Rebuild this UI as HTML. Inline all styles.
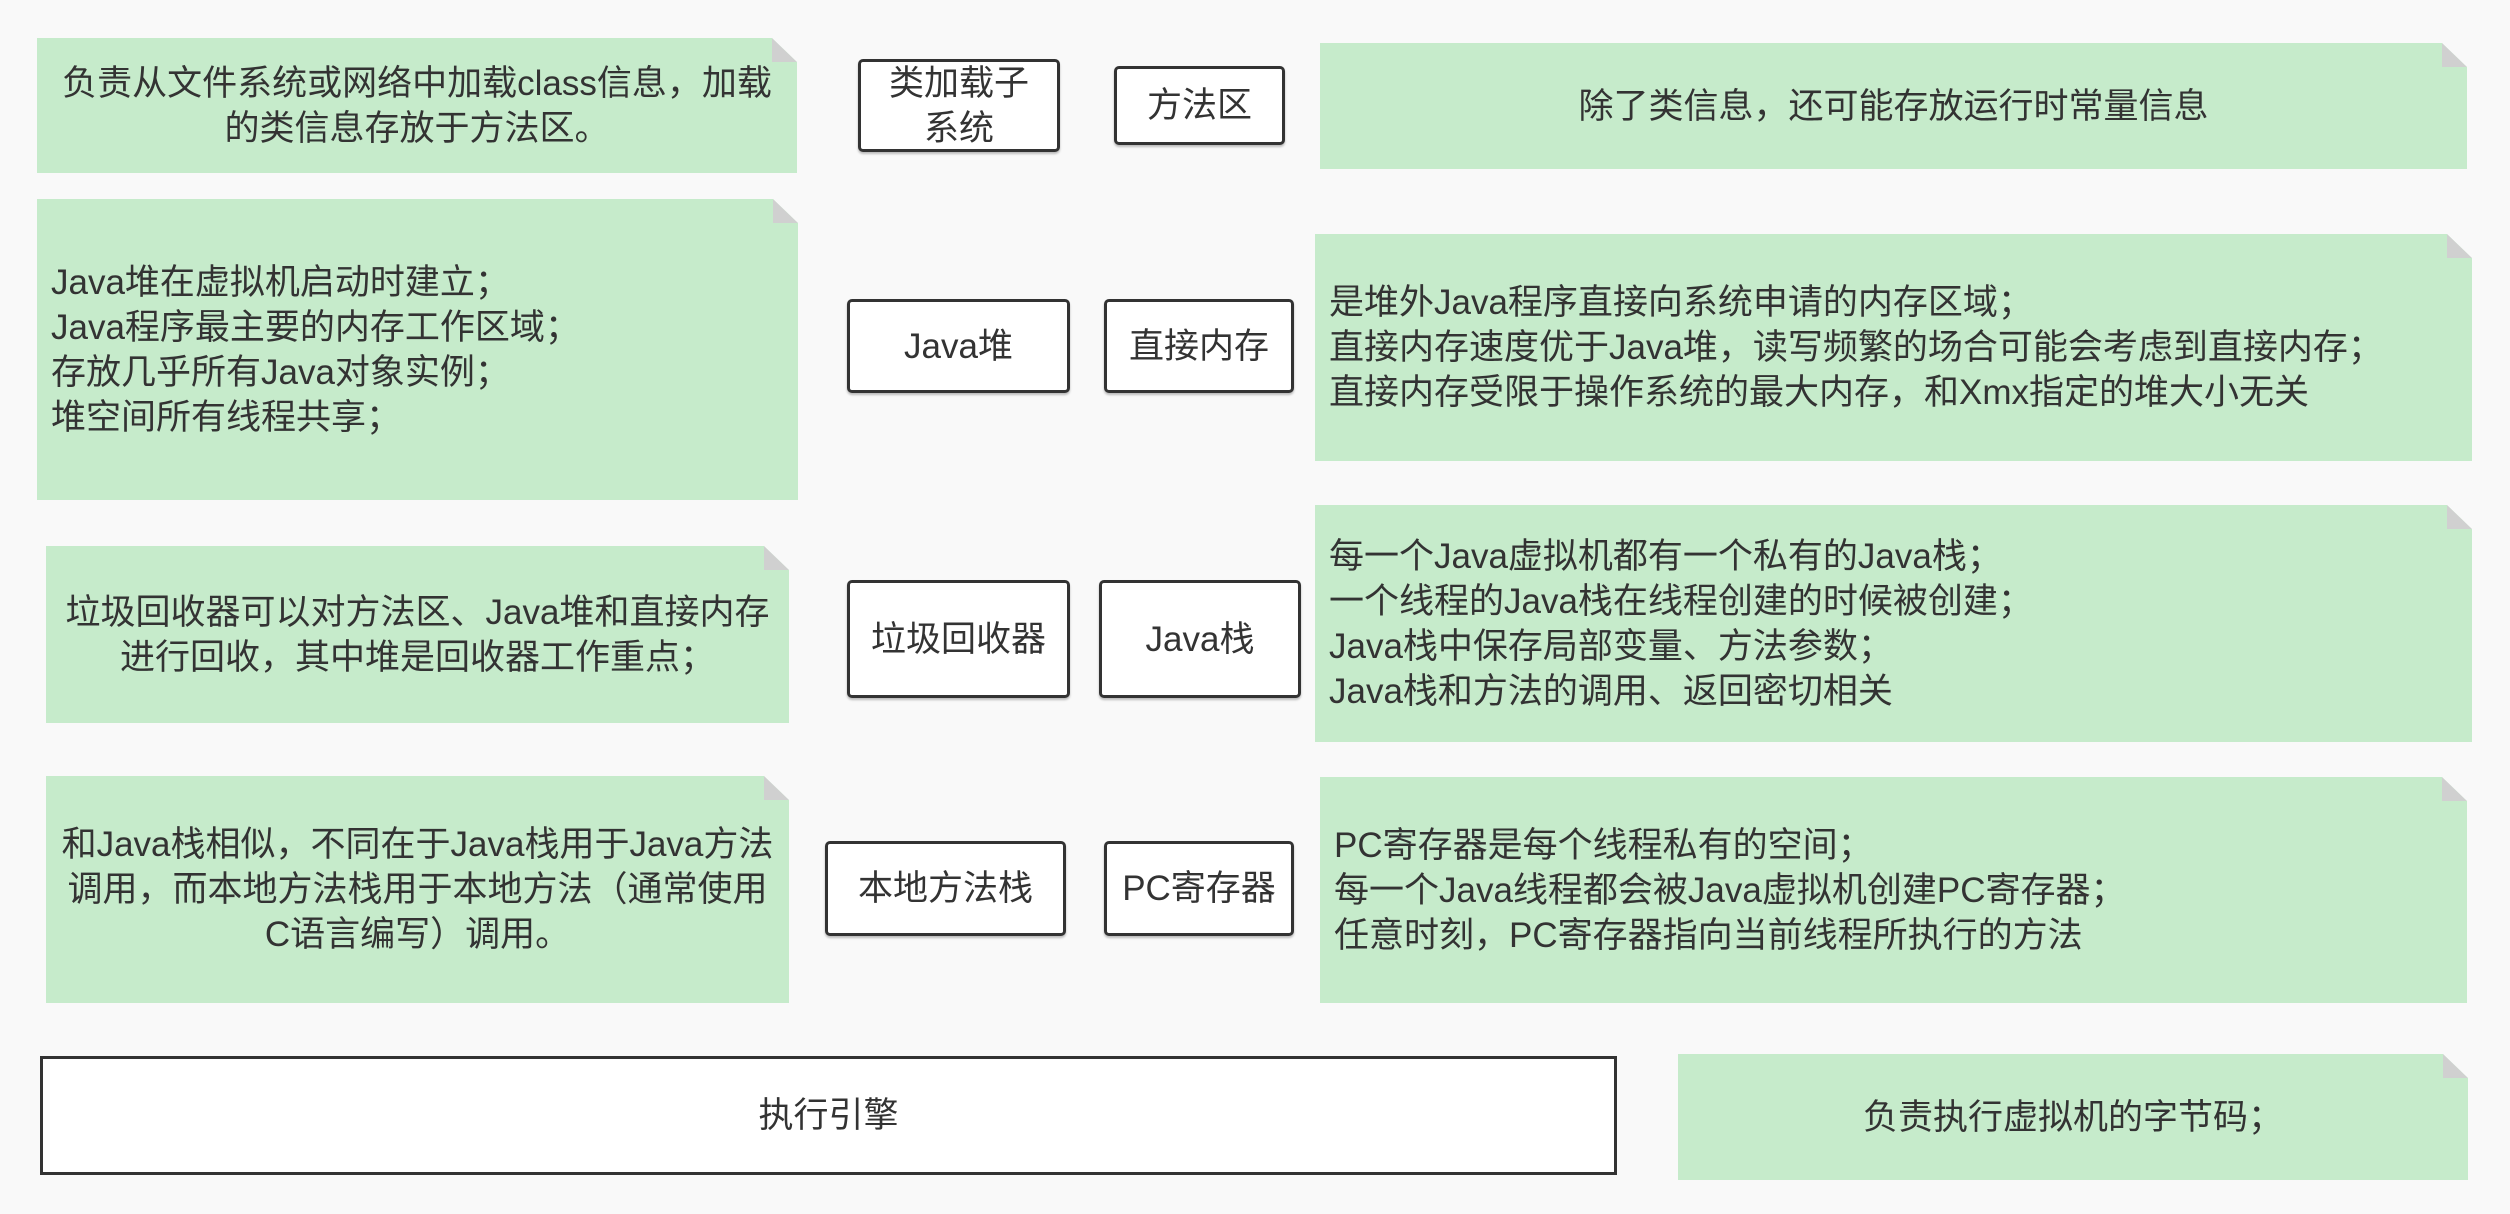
<!DOCTYPE html>
<html><head><meta charset="utf-8"><style>
html,body{margin:0;padding:0;}
body{width:2510px;height:1214px;background:#f9f9f9;position:relative;overflow:hidden;font-family:"Liberation Sans","Noto Sans CJK SC",sans-serif;font-size:35px;color:#333;}
.n{position:absolute;background:#c6ebcb;clip-path:polygon(0 0,calc(100% - 25px) 0,100% 24px,100% 100%,0 100%);display:flex;align-items:center;line-height:45px;box-sizing:border-box;}
.n::after{content:"";position:absolute;right:0;top:0;width:25px;height:24px;background:#d0d0d0;clip-path:polygon(0 0,100% 100%,0 100%);}
.c{justify-content:center;text-align:center;}
.l{justify-content:flex-start;text-align:left;padding-left:14px;}
.b{position:absolute;box-sizing:border-box;border:3px solid #333;border-radius:5px;background:#fff;display:flex;align-items:center;justify-content:center;text-align:center;line-height:45px;box-shadow:0 2px 2px rgba(0,0,0,0.25);}
</style></head><body>
<div class="n c" style="left:37px;top:38px;width:760px;height:135px;">负责从文件系统或网络中加载class信息，加载<br>的类信息存放于方法区。</div>
<div class="b" style="left:858px;top:59px;width:202px;height:93px;">类加载子<br>系统</div>
<div class="b" style="left:1114px;top:66px;width:171px;height:79px;">方法区</div>
<div class="n c" style="left:1320px;top:43px;width:1147px;height:126px;">除了类信息，还可能存放运行时常量信息</div>

<div class="n l" style="left:37px;top:199px;width:761px;height:301px;">Java堆在虚拟机启动时建立；<br>Java程序最主要的内存工作区域；<br>存放几乎所有Java对象实例；<br>堆空间所有线程共享；</div>
<div class="b" style="left:847px;top:299px;width:223px;height:94px;">Java堆</div>
<div class="b" style="left:1104px;top:299px;width:190px;height:94px;">直接内存</div>
<div class="n l" style="left:1315px;top:234px;width:1157px;height:227px;">是堆外Java程序直接向系统申请的内存区域；<br>直接内存速度优于Java堆，读写频繁的场合可能会考虑到直接内存；<br>直接内存受限于操作系统的最大内存，和Xmx指定的堆大小无关</div>

<div class="n c" style="left:46px;top:546px;width:743px;height:177px;">垃圾回收器可以对方法区、Java堆和直接内存<br>进行回收，其中堆是回收器工作重点；</div>
<div class="b" style="left:847px;top:580px;width:223px;height:118px;">垃圾回收器</div>
<div class="b" style="left:1099px;top:580px;width:202px;height:118px;">Java栈</div>
<div class="n l" style="left:1315px;top:505px;width:1157px;height:237px;">每一个Java虚拟机都有一个私有的Java栈；<br>一个线程的Java栈在线程创建的时候被创建；<br>Java栈中保存局部变量、方法参数；<br>Java栈和方法的调用、返回密切相关</div>

<div class="n c" style="left:46px;top:776px;width:743px;height:227px;">和Java栈相似，不同在于Java栈用于Java方法<br>调用，而本地方法栈用于本地方法（通常使用<br>C语言编写）调用。</div>
<div class="b" style="left:825px;top:841px;width:241px;height:95px;">本地方法栈</div>
<div class="b" style="left:1104px;top:841px;width:190px;height:95px;">PC寄存器</div>
<div class="n l" style="left:1320px;top:777px;width:1147px;height:226px;">PC寄存器是每个线程私有的空间；<br>每一个Java线程都会被Java虚拟机创建PC寄存器；<br>任意时刻，PC寄存器指向当前线程所执行的方法</div>

<div class="b" style="left:40px;top:1056px;width:1577px;height:119px;border-width:3px;border-radius:0;box-shadow:none;">执行引擎</div>
<div class="n c" style="left:1678px;top:1054px;width:790px;height:126px;">负责执行虚拟机的字节码；</div>
</body></html>
